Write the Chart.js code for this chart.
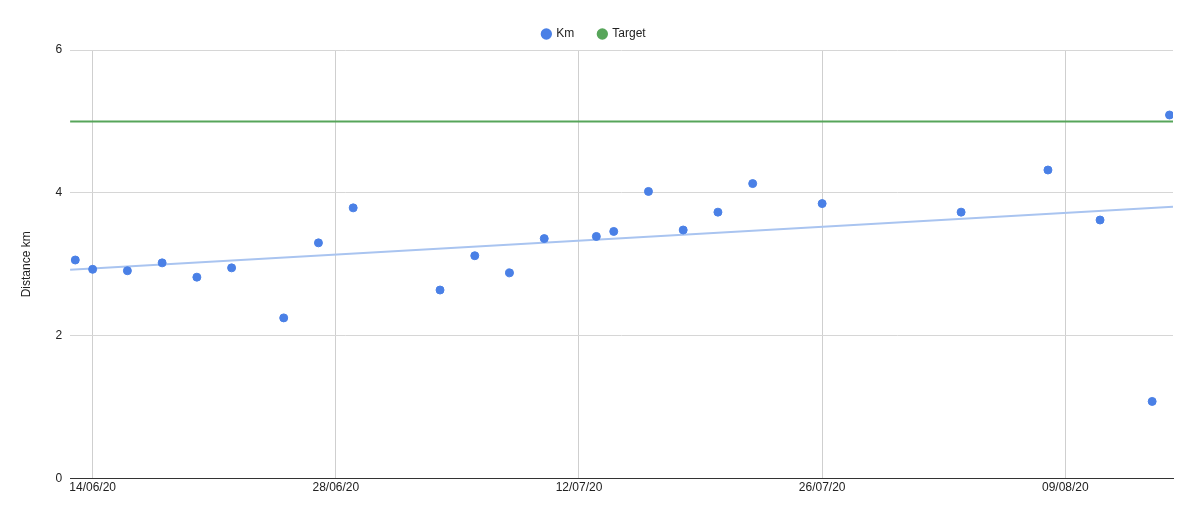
<!DOCTYPE html>
<html><head><meta charset="utf-8">
<script src="https://cdn.jsdelivr.net/npm/chart.js@4"></script>
<style>html,body{margin:0;background:#fff}#w{width:1200px;height:506px}</style>
</head><body><div id="w"><canvas id="c"></canvas></div>
<script>
// day offsets from 14/06/20
const days = [-1,0,2,4,6,8,11,13,15,20,22,24,26,29,30,32,34,36,38,42,50,55,58,61,62];
const km = [3.06,2.93,2.91,3.02,2.82,2.95,2.25,3.30,3.79,2.64,3.12,2.88,3.36,3.39,3.46,4.02,3.48,3.73,4.13,3.85,3.73,4.32,3.62,1.08,5.09];
const target = 5;
const xMin = -1.3, xMax = 62.2;
const tickDays = [0,14,28,42,56];
const base = new Date(2020,5,14);
function fmt(d){const t=new Date(base.getTime()+d*86400000);const p=n=>String(n).padStart(2,'0');return p(t.getDate())+'/'+p(t.getMonth()+1)+'/'+String(t.getFullYear()).slice(2);}
// least squares trendline
const n=days.length, mx=days.reduce((a,b)=>a+b)/n, my=km.reduce((a,b)=>a+b)/n;
let sxy=0,sxx=0;for(let i=0;i<n;i++){sxy+=(days[i]-mx)*(km[i]-my);sxx+=(days[i]-mx)**2;}
const slope=sxy/sxx, icpt=my-slope*mx;
Chart.defaults.font.family='Arial, "Liberation Sans", sans-serif';
Chart.defaults.color='#222';
new Chart(document.getElementById('c'),{
 data:{datasets:[
  {type:'scatter',label:'Km',data:days.map((d,i)=>({x:d,y:km[i]})),backgroundColor:'#4a80e6',borderColor:'#4a80e6',pointRadius:4,pointHoverRadius:4,order:1},
  {type:'line',label:'Target',data:[{x:xMin,y:target},{x:xMax,y:target}],borderColor:'#57a55a',backgroundColor:'#57a55a',borderWidth:2,pointRadius:0,order:2},
  {type:'line',label:'trend',data:[{x:xMin,y:icpt+slope*xMin},{x:xMax,y:icpt+slope*xMax}],borderColor:'#a9c4f0',borderWidth:2,pointRadius:0,order:3}
 ]},
 options:{responsive:true,maintainAspectRatio:false,animation:false,
  layout:{padding:{left:15,right:27,top:4,bottom:9}},
  plugins:{tooltip:{enabled:false},
   legend:{position:'top',labels:{usePointStyle:true,pointStyle:'circle',boxWidth:8,boxHeight:8,padding:24,font:{size:12},filter:i=>i.text!=='trend',
    generateLabels:ch=>Chart.defaults.plugins.legend.labels.generateLabels(ch).map(l=>Object.assign(l,{pointStyle:'circle',lineWidth:0,strokeStyle:l.fillStyle}))}}},
  scales:{
   x:{type:'linear',min:xMin,max:xMax,
    afterBuildTicks:s=>{s.ticks=tickDays.map(v=>({value:v}));},
    ticks:{callback:v=>fmt(v),font:{size:12},maxRotation:0,padding:2},
    grid:{color:'#cfcfcf',drawTicks:false},border:{color:'#333'}},
   y:{min:0,max:6,ticks:{stepSize:2,font:{size:12},padding:8},
    title:{display:true,text:'Distance km',font:{size:12},padding:{bottom:14}},
    grid:{color:'#d6d6d6',drawTicks:false},border:{display:false}}
  }}
});
</script></body></html>
